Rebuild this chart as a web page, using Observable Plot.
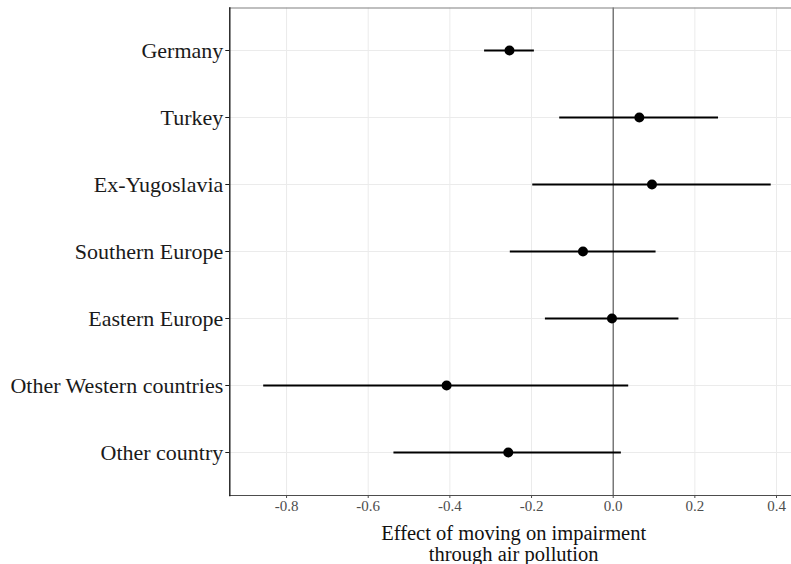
<!DOCTYPE html>
<html>
<head>
<meta charset="utf-8">
<script src="https://cdn.jsdelivr.net/npm/d3@7"></script>
<script src="https://cdn.jsdelivr.net/npm/@observablehq/plot@0.6"></script>
<style>
  html, body { margin: 0; padding: 0; background: white; }
  #chart svg { display: block; }
</style>
</head>
<body>
<div id="chart"></div>
<script>
const categories = ["Germany", "Turkey", "Ex-Yugoslavia", "Southern Europe", "Eastern Europe", "Other Western countries", "Other country"];
const estimates = [-0.254, 0.064, 0.095, -0.074, -0.003, -0.408, -0.257];
const lower = [-0.315, -0.131, -0.197, -0.252, -0.166, -0.856, -0.537];
const upper = [-0.193, 0.258, 0.387, 0.105, 0.161, 0.038, 0.020];
const xTicks = [-0.8, -0.6, -0.4, -0.2, 0, 0.2, 0.4];
const xTitleLines = ["Effect of moving on impairment", "through air pollution"];

const data = categories.map((c, i) => ({cat: c, est: estimates[i], lo: lower[i], hi: upper[i]}));
const fmt = d => d.toFixed(1);

const chart = Plot.plot({
  width: 791,
  height: 564,
  marginLeft: 229.3,
  marginRight: 0,
  marginTop: 7.5,
  marginBottom: 69,
  style: {fontFamily: "'Liberation Serif', 'DejaVu Serif', serif", background: "white", overflow: "visible"},
  x: {domain: [-0.939, 0.4367], ticks: xTicks},
  y: {type: "point", domain: categories, padding: 0.6},
  marks: [
    Plot.gridX(xTicks, {stroke: "#ebebeb", strokeOpacity: 1, strokeWidth: 1}),
    Plot.gridY(categories, {stroke: "#ebebeb", strokeOpacity: 1, strokeWidth: 1}),
    Plot.ruleX([0], {stroke: "#4d4d4d", strokeWidth: 1.1}),
    Plot.ruleY(data, {y: "cat", x1: "lo", x2: "hi", stroke: "black", strokeWidth: 2}),
    Plot.dot(data, {x: "est", y: "cat", r: 5, fill: "black", stroke: "none"}),
    Plot.frame({anchor: "top", stroke: "#808080", strokeWidth: 1.2}),
    Plot.frame({anchor: "bottom", stroke: "#4d4d4d", strokeWidth: 1.2}),
    Plot.frame({anchor: "left", stroke: "#1a1a1a", strokeWidth: 1.4}),
    Plot.axisX({ticks: xTicks, tickFormat: fmt, tickSize: 3, tickPadding: 2, fontSize: 15, color: "#4d4d4d", label: null}),
    Plot.axisY({tickSize: 4, tickPadding: 2.5, fontSize: 22, color: "#1a1a1a", label: null}),
    Plot.text([xTitleLines[0]], {frameAnchor: "bottom", lineAnchor: "top", dy: 30, dx: 3, fontSize: 20.5, fill: "#111"}),
    Plot.text([xTitleLines[1]], {frameAnchor: "bottom", lineAnchor: "top", dy: 50.5, dx: 3, fontSize: 20.5, fill: "#111"})
  ]
});
document.getElementById("chart").appendChild(chart);
</script>
</body>
</html>
